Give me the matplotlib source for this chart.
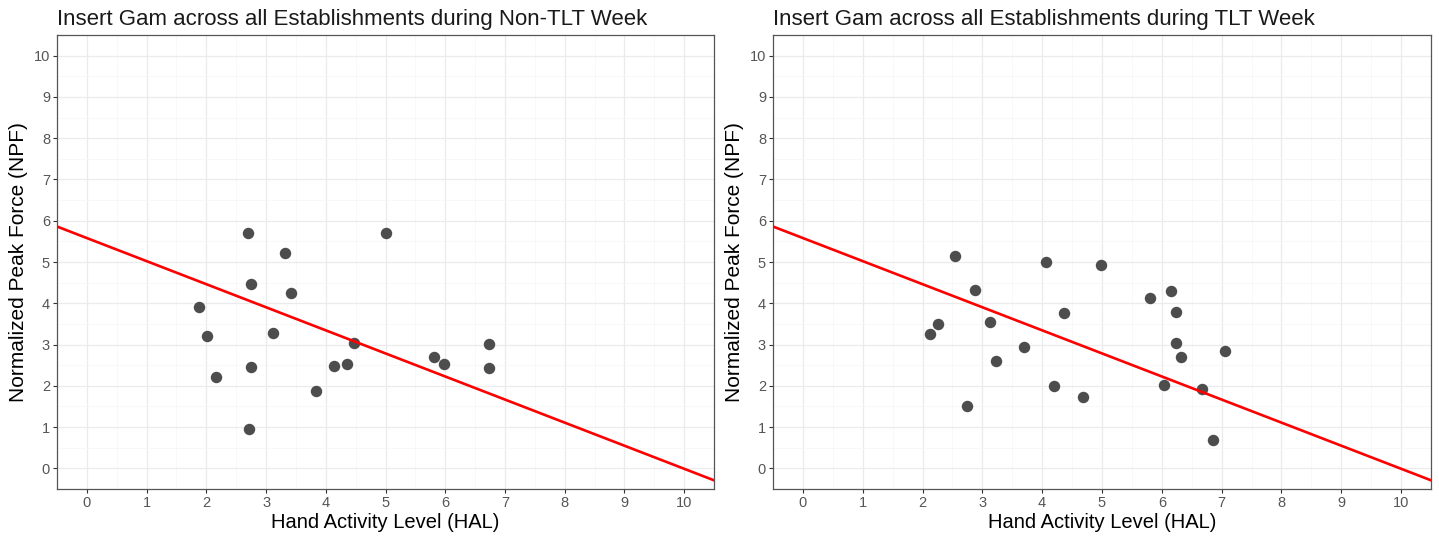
import matplotlib
matplotlib.use("Agg")
import matplotlib.pyplot as plt
from matplotlib.ticker import MultipleLocator

plt.rcParams['font.family'] = ['Liberation Sans', 'DejaVu Sans']

# Non-TLT week
hal_non = [2.69, 5.00, 3.31, 2.74, 3.41, 1.88, 2.01, 3.12, 4.47, 6.73,
           5.82, 5.98, 6.73, 2.74, 4.13, 4.35, 2.17, 3.84, 2.72]
npf_non = [5.70, 5.71, 5.22, 4.47, 4.25, 3.92, 3.20, 3.29, 3.04, 3.01,
           2.70, 2.53, 2.44, 2.45, 2.48, 2.54, 2.21, 1.87, 0.95]

# TLT week
hal_tlt = [2.55, 4.07, 4.98, 2.88, 6.15, 5.81, 6.23, 4.37, 2.25, 2.12, 3.12,
           6.24, 3.70, 7.06, 6.32, 3.22, 4.20, 6.03, 6.68, 4.68, 2.75, 6.86]
npf_tlt = [5.14, 5.00, 4.93, 4.31, 4.30, 4.12, 3.80, 3.77, 3.50, 3.25, 3.54,
           3.04, 2.95, 2.85, 2.71, 2.59, 1.99, 2.03, 1.92, 1.73, 1.51, 0.69]

# reference line (same for both panels)
intercept = 5.58
slope = -0.559

titles = ["Insert Gam across all Establishments during Non-TLT Week",
          "Insert Gam across all Establishments during TLT Week"]

fig = plt.figure(figsize=(14.39, 5.36), dpi=100)
ax1 = fig.add_axes([57/1439, 47/536, 657/1439, 454/536])
ax2 = fig.add_axes([773/1439, 47/536, 658/1439, 454/536])

for ax, xs, ys, title in [(ax1, hal_non, npf_non, titles[0]),
                          (ax2, hal_tlt, npf_tlt, titles[1])]:
    ax.set_xlim(-0.5, 10.5)
    ax.set_ylim(-0.5, 10.5)
    ax.xaxis.set_major_locator(MultipleLocator(1))
    ax.yaxis.set_major_locator(MultipleLocator(1))
    ax.xaxis.set_minor_locator(MultipleLocator(0.5))
    ax.yaxis.set_minor_locator(MultipleLocator(0.5))
    ax.grid(which='major', color='#ebebeb', lw=0.9)
    ax.grid(which='minor', color='#f5f5f5', lw=0.5)
    ax.set_axisbelow(True)
    ax.tick_params(which='minor', length=0)
    ax.tick_params(which='major', length=3, width=0.8, color='#333333',
                   labelcolor='#555555', labelsize=10.5, pad=2)
    for s in ax.spines.values():
        s.set_color('#555555')
        s.set_linewidth(0.9)

    ax.scatter(xs, ys, s=68, color='#4d4d4d', zorder=3, linewidths=0)
    ax.axline((0, intercept), slope=slope, color='#ff0000', lw=1.9, zorder=4)

    ax.set_title(title, loc='left', fontsize=16, pad=7, color='#1a1a1a')
    ax.set_xlabel("Hand Activity Level (HAL)", fontsize=14.5, labelpad=2)
    ax.set_ylabel("Normalized Peak Force (NPF)", fontsize=15, labelpad=4)

fig.savefig("out.png", dpi=100)
